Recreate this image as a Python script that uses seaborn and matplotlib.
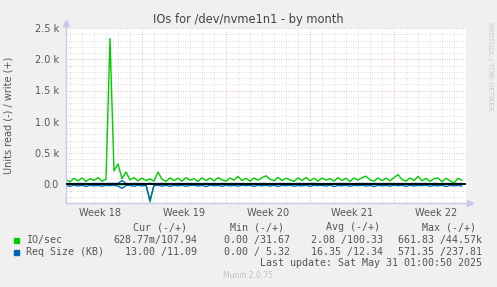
import numpy as np
import pandas as pd
import matplotlib
matplotlib.use("Agg")
import matplotlib.pyplot as plt
import matplotlib.dates as mdates
from matplotlib.patches import Rectangle
import seaborn as sns

# Data (8 hour samples)
# ==================================================
start_time = "2025-04-28 16:00"
end_time = "2025-06-01 00:00"

io_write = [70, 40, 95, 55, 100, 45, 90, 60, 105, 50,
            80, 2330, 215, 325, 90, 195, 70, 105, 55, 95,
            60, 85, 50, 195, 80, 45, 100, 60, 95, 50,
            105, 65, 90, 45, 100, 60, 95, 55, 105, 70,
            50, 100, 65, 125, 60, 95, 50, 100, 65, 105,
            135, 80, 55, 110, 60, 95, 70, 45, 100, 60,
            110, 55, 95, 50, 100, 65, 90, 50, 105, 60,
            95, 45, 100, 65, 105, 130, 70, 50, 100, 60,
            95, 55, 105, 155, 75, 50, 100, 60, 125, 55,
            95, 45, 90, 100, 40, 95, 55, 20, 95, 60]

io_read = [2, 1, 3, 2, 1, 2, 4, 1, 2, 3,
           1, 6, 4, 3, 8, 2, 1, 3, 2, 1,
           3, 285, 4, 2, 1, 3, 2, 1, 2, 3,
           1, 2, 3, 1, 2, 1, 3, 2, 1, 2,
           3, 1, 2, 1, 3, 2, 1, 2, 3, 1,
           2, 1, 3, 2, 1, 2, 3, 1, 2, 1,
           3, 2, 1, 2, 3, 1, 2, 1, 3, 2,
           1, 2, 3, 1, 2, 1, 3, 2, 1, 2,
           3, 1, 2, 1, 3, 2, 1, 2, 3, 1,
           2, 1, 3, 2, 1, 2, 3, 1, 2, 1]

req_write = [11, 12, 10, 13, 11, 12, 10, 12, 11, 13,
             11, 14, 12, 13, 60, 12, 11, 13, 12, 11,
             12, 14, 11, 12, 13, 11, 12, 10, 12, 11,
             13, 12, 11, 12, 10, 13, 11, 12, 11, 13,
             12, 11, 12, 13, 11, 12, 10, 12, 11, 13,
             12, 11, 12, 10, 13, 11, 12, 11, 13, 12,
             11, 12, 13, 11, 12, 10, 12, 11, 13, 12,
             11, 12, 10, 13, 11, 12, 11, 13, 12, 11,
             12, 13, 11, 12, 10, 12, 11, 13, 12, 11,
             12, 10, 13, 11, 12, 11, 13, 12, 11, 12]

req_read = [18, 32, 15, 28, 17, 35, 16, 26, 19, 30,
            16, 22, 18, 28, 65, 20, 17, 32, 16, 26,
            18, 255, 20, 17, 30, 15, 34, 18, 25, 16,
            31, 19, 15, 28, 17, 36, 16, 24, 19, 32,
            15, 27, 18, 30, 16, 22, 19, 34, 15, 25,
            17, 29, 16, 35, 18, 23, 15, 31, 19, 27,
            16, 34, 17, 22, 18, 29, 15, 36, 19, 25,
            16, 32, 17, 23, 15, 28, 18, 37, 16, 26,
            19, 30, 15, 23, 17, 34, 16, 28, 18, 22,
            15, 32, 19, 26, 16, 36, 17, 25, 18, 29]

week_names = ["Week 18", "Week 19", "Week 20", "Week 21", "Week 22"]
week_mid = ["2025-05-01 12:00", "2025-05-08 12:00", "2025-05-15 12:00",
            "2025-05-22 12:00", "2025-05-29 12:00"]

headers = ["Cur (-/+)", "Min (-/+)", "Avg (-/+)", "Max (-/+)"]
series_names = ["IO/sec", "Req Size (KB)"]
series_colors = ["#00CC00", "#0066B3"]
stats = [["628.77m/107.94", "0.00 /31.67", "2.08 /100.33", "661.83 /44.57k"],
         ["13.00 /11.09", "0.00 / 5.32", "16.35 /12.34", "571.35 /237.81"]]

times = pd.date_range(start_time, periods=len(io_write), freq="8h")
df = pd.DataFrame({"time": times,
                   "io_write": io_write, "io_read": np.negative(io_read),
                   "req_write": req_write, "req_read": np.negative(req_read)})

# Plot
# ==================================================
sns.set_style("white")
plt.rcParams["font.family"] = ["DejaVu Sans"]
text_col = "#555555"
axis_col = "#C8C8EE"

fig = plt.figure(figsize=(4.97, 2.87), dpi=100, facecolor="#F0F0F0")
ax = fig.add_axes([66 / 497, 84 / 287, 400 / 497, 175 / 287])
ax.set_facecolor("white")

sns.lineplot(data=df, x="time", y="io_read", color=series_colors[0], lw=1, ax=ax)
sns.lineplot(data=df, x="time", y="req_read", color=series_colors[1], lw=1, ax=ax)
sns.lineplot(data=df, x="time", y="req_write", color=series_colors[1], lw=1, ax=ax)
ax.axhline(0, color="black", lw=1.3, zorder=3)
sns.lineplot(data=df, x="time", y="io_write", color=series_colors[0], lw=1, ax=ax)

ax.set_xlim(pd.Timestamp(start_time), pd.Timestamp(end_time))
ax.set_ylim(-300, 2500)

# grid: minor daily / 100, major weekly / 500
ax.xaxis.set_major_locator(mdates.WeekdayLocator(byweekday=mdates.MO))
ax.xaxis.set_minor_locator(mdates.DayLocator())
ax.xaxis.set_major_formatter(plt.NullFormatter())
ax.yaxis.set_major_locator(plt.MultipleLocator(500))
ax.yaxis.set_minor_locator(plt.MultipleLocator(100))
ax.yaxis.set_major_formatter(plt.FuncFormatter(
    lambda v, p: "0.0" if v == 0 else "{:.1f} k".format(v / 1000)))

ax.grid(which="minor", color="#D0D0D0", lw=0.6, ls=(0, (1, 1.8)))
ax.grid(which="major", color="#E8A8A8", lw=0.6, ls=(0, (1, 1.8)))
ax.set_axisbelow(True)
ax.tick_params(axis="both", which="major", length=2, width=0.6, color="#E09090",
               labelsize=7, labelcolor=text_col, pad=3)
ax.tick_params(axis="both", which="minor", length=2, width=0.6, color="#BBBBBB")
ax.tick_params(axis="x", which="major", pad=0)

for name, t in zip(week_names, week_mid):
    ax.text(pd.Timestamp(t), -0.03, name, transform=ax.get_xaxis_transform(),
            ha="center", va="top", fontsize=7, color=text_col)

for s in ["top", "right"]:
    ax.spines[s].set_visible(False)
for s in ["left", "bottom"]:
    ax.spines[s].set_color(axis_col)
    ax.spines[s].set_linewidth(1)
ax.plot([0, 0], [1, 1.03], transform=ax.transAxes, color=axis_col, lw=1, clip_on=False)
ax.plot(0, 1.03, marker="^", ms=4, color=axis_col, transform=ax.transAxes, clip_on=False)
ax.plot([1, 1.01], [0, 0], transform=ax.transAxes, color=axis_col, lw=1, clip_on=False)
ax.plot(1.01, 0, marker=">", ms=4, color=axis_col, transform=ax.transAxes, clip_on=False)

ax.set_xlabel("")
ax.set_ylabel("Units read (-) / write (+)", fontsize=7, color=text_col, labelpad=6)
ax.yaxis.set_label_coords(-0.13, 0.5)

fig.text(248 / 497, 1 - 19 / 287, "IOs for /dev/nvme1n1 - by month",
         ha="center", va="center", fontsize=8.3, color="#444444")
fig.text(490 / 497, 1 - 22 / 287, "RRDTOOL / TOBI OETIKER", rotation=270,
         ha="center", va="top", fontsize=5, color="#C8C8C8")

# Legend / stats table
mono = "DejaVu Sans Mono"
header_right = [187, 284, 380, 476]
value_right = [197, 290, 383, 482]
for h, xr in zip(headers, header_right):
    fig.text(xr / 497, 1 - 227 / 287, h, ha="right", va="center",
             fontsize=7.2, family=mono, color=text_col)
for i, (name, col) in enumerate(zip(series_names, series_colors)):
    yc = 240 + 12 * i
    fig.patches.append(Rectangle((14 / 497, 1 - (yc + 3) / 287), 5 / 497, 5 / 287,
                                 transform=fig.transFigure, color=col))
    fig.text(26 / 497, 1 - yc / 287, name, ha="left", va="center",
             fontsize=7.2, family=mono, color=text_col)
    for v, xr in zip(stats[i], value_right):
        fig.text(xr / 497, 1 - yc / 287, v, ha="right", va="center",
                 fontsize=7.2, family=mono, color=text_col)
fig.text(482 / 497, 1 - 263 / 287, "Last update: Sat May 31 01:00:50 2025",
         ha="right", va="center", fontsize=7.2, family=mono, color=text_col)
fig.text(248 / 497, 1 - 276 / 287, "Munin 2.0.75", ha="center", va="center",
         fontsize=5.5, color="#C0C0C0")

plt.savefig("out.png", dpi=100, facecolor=fig.get_facecolor())
